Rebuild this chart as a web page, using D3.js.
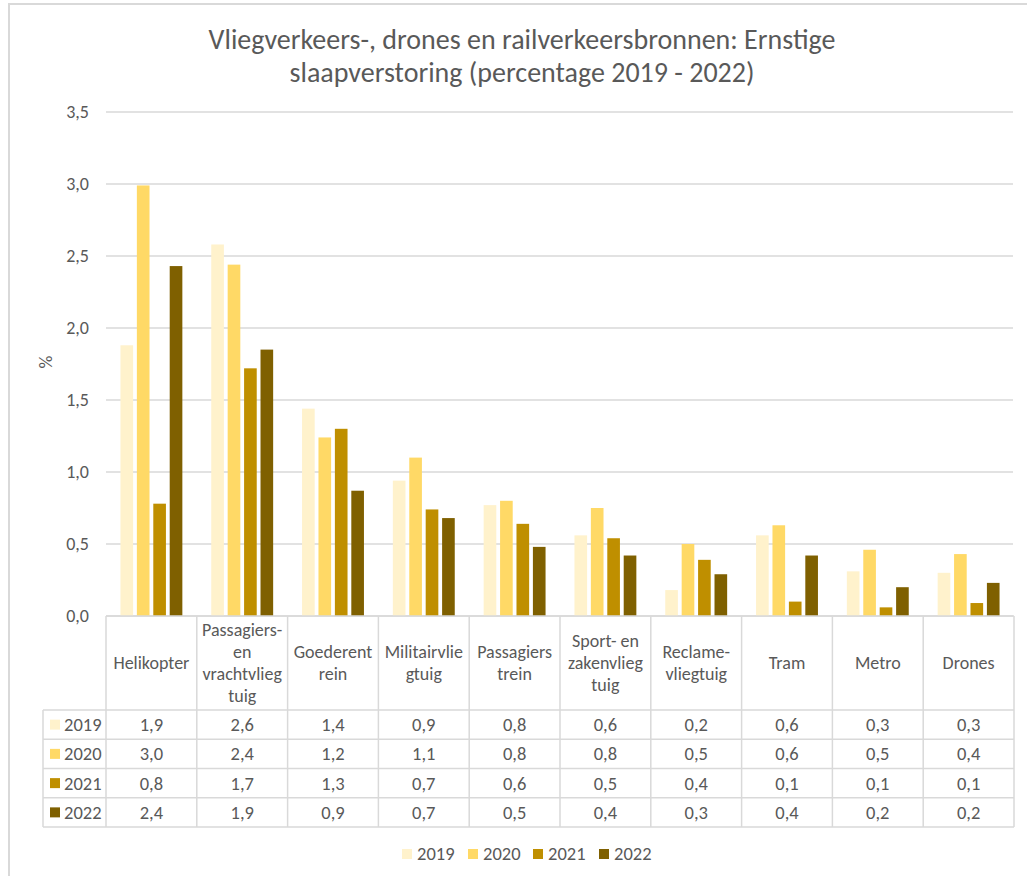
<!doctype html>
<html lang="nl">
<head>
<meta charset="utf-8">
<title>Ernstige slaapverstoring</title>
<script src="https://d3js.org/d3.v7.min.js"></script>
<style>
  body { margin: 0; background: #fff; }
  text { font-family: Carlito, Calibri, Lato, sans-serif; fill: #595959; }
</style>
</head>
<body>
<div id="chart"></div>
<script>
// data
var categories = ["Helikopter", "Passagiers- en vrachtvliegtuig", "Goederentrein", "Militairvliegtuig",
  "Passagierstrein", "Sport- en zakenvliegtuig", "Reclame-vliegtuig", "Tram", "Metro", "Drones"];
// header text as it wraps in the table cells
var headerLines = [["Helikopter"], ["Passagiers-", "en", "vrachtvlieg", "tuig"], ["Goederent", "rein"],
  ["Militairvlie", "gtuig"], ["Passagiers", "trein"], ["Sport- en", "zakenvlieg", "tuig"],
  ["Reclame-", "vliegtuig"], ["Tram"], ["Metro"], ["Drones"]];
var years = ["2019", "2020", "2021", "2022"];
var v2019 = [1.88, 2.58, 1.44, 0.94, 0.77, 0.56, 0.18, 0.56, 0.31, 0.30];
var v2020 = [2.99, 2.44, 1.24, 1.10, 0.80, 0.75, 0.50, 0.63, 0.46, 0.43];
var v2021 = [0.78, 1.72, 1.30, 0.74, 0.64, 0.54, 0.39, 0.10, 0.06, 0.09];
var v2022 = [2.43, 1.85, 0.87, 0.68, 0.48, 0.42, 0.29, 0.42, 0.20, 0.23];
var yTicks = [0, 0.5, 1, 1.5, 2, 2.5, 3, 3.5];
var colors = ["#FFF2CC", "#FFD966", "#BF8F00", "#7F6000"];

var series = [v2019, v2020, v2021, v2022];
var w = 1027, h = 876;
var grid = "#d9d9d9";
var fmt = function(v) { return d3.format(".1f")(v).replace(".", ","); };

var svg = d3.select("#chart").append("svg")
  .attr("width", w).attr("height", h);

svg.append("rect").attr("width", w).attr("height", h).attr("fill", "#fff");
// chart frame
svg.append("rect")
  .attr("x", 9).attr("y", 4).attr("width", 1040).attr("height", 900)
  .attr("fill", "none").attr("stroke", grid).attr("stroke-width", 2);

// title
svg.append("text").attr("x", 522).attr("y", 49).attr("text-anchor", "middle")
  .style("font-size", "28px").text("Vliegverkeers-, drones en railverkeersbronnen: Ernstige");
svg.append("text").attr("x", 522).attr("y", 82).attr("text-anchor", "middle")
  .style("font-size", "28px").text("slaapverstoring (percentage 2019 - 2022)");

var left = 106, right = 1014;
var x0 = d3.scaleBand().domain(categories).range([left, right]);
var x1 = d3.scaleBand().domain(years).range([0, x0.bandwidth()])
  .paddingInner(0.23).paddingOuter(0.88);
var y = d3.scaleLinear().domain([0, 3.5]).range([616, 112]);

// gridlines + y labels
var yAxis = svg.append("g");
yAxis.selectAll("line").data(yTicks).join("line")
  .attr("x1", left).attr("x2", 1013)
  .attr("y1", function(d) { return y(d); }).attr("y2", function(d) { return y(d); })
  .attr("stroke", grid).attr("stroke-width", 1.5);
yAxis.selectAll("text").data(yTicks).join("text")
  .attr("x", 89).attr("y", function(d) { return y(d) + 6; })
  .attr("text-anchor", "end").style("font-size", "18px")
  .text(fmt);

svg.append("text")
  .attr("transform", "translate(52,362) rotate(-90)")
  .attr("text-anchor", "middle").style("font-size", "18px").text("%");

// bars
var groups = svg.append("g").selectAll("g").data(categories).join("g")
  .attr("transform", function(d) { return "translate(" + x0(d) + ",0)"; });
groups.selectAll("rect")
  .data(function(d, i) { return years.map(function(yr, j) { return { yr: yr, v: series[j][i], c: colors[j] }; }); })
  .join("rect")
  .attr("x", function(d) { return x1(d.yr); })
  .attr("width", x1.bandwidth())
  .attr("y", function(d) { return y(d.v); })
  .attr("height", function(d) { return y(0) - y(d.v); })
  .attr("fill", function(d) { return d.c; });

// data table
var headTop = 616, headBot = 710, rowH = 29.25, labLeft = 43;
var tbl = svg.append("g");
var line = function(x1p, y1p, x2p, y2p) {
  tbl.append("line").attr("x1", x1p).attr("y1", y1p).attr("x2", x2p).attr("y2", y2p)
    .attr("stroke", grid).attr("stroke-width", 1.5);
};
line(left, headTop, right, headTop);
for (var r = 0; r <= years.length; r++) line(labLeft, headBot + r * rowH, right, headBot + r * rowH);
line(labLeft, headBot, labLeft, headBot + years.length * rowH);
categories.forEach(function(c, i) { line(x0(c), headTop, x0(c), headBot + years.length * rowH); });
line(right, headTop, right, headBot + years.length * rowH);

// header text
categories.forEach(function(c, i) {
  var lines = headerLines[i], lh = 21.7;
  var cy = (headTop + headBot) / 2 - (lines.length - 1) * lh / 2;
  lines.forEach(function(t, k) {
    tbl.append("text").attr("x", x0(c) + x0.bandwidth() / 2).attr("y", cy + k * lh + 6)
      .attr("text-anchor", "middle").style("font-size", "18px").text(t);
  });
});

// rows
years.forEach(function(yr, j) {
  var cy = headBot + j * rowH + rowH / 2;
  tbl.append("rect").attr("x", 50).attr("y", cy - 5).attr("width", 10).attr("height", 10).attr("fill", colors[j]);
  tbl.append("text").attr("x", 64).attr("y", cy + 6.5).style("font-size", "18.5px").text(yr);
  categories.forEach(function(c, i) {
    tbl.append("text").attr("x", x0(c) + x0.bandwidth() / 2).attr("y", cy + 6.5)
      .attr("text-anchor", "middle").style("font-size", "18.5px").text(fmt(series[j][i]));
  });
});

// legend
var legX = [402, 468, 533, 599];
var leg = svg.append("g").selectAll("g").data(years).join("g")
  .attr("transform", function(d, i) { return "translate(" + legX[i] + ",849)"; });
leg.append("rect").attr("width", 10).attr("height", 10).attr("fill", function(d, i) { return colors[i]; });
leg.append("text").attr("x", 15).attr("y", 11).style("font-size", "18.5px").text(function(d) { return d; });
</script>
</body>
</html>
